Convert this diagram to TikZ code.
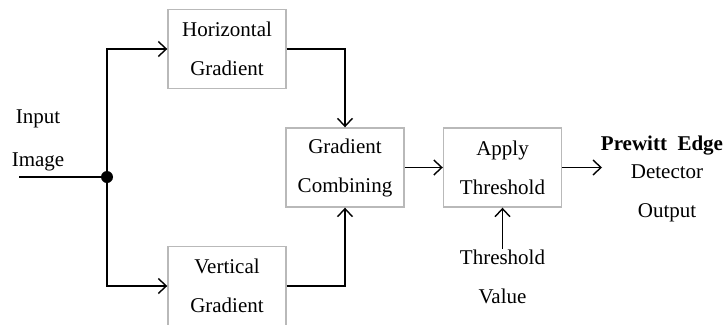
\documentclass[tikz,border=0pt]{standalone}
\usepackage{fontspec}
\setmainfont{Liberation Serif}
\usetikzlibrary{positioning,arrows.meta}

\begin{document}
\begin{tikzpicture}[
  x=1pt, y=-1pt,
  block/.style={
    rectangle, draw=gray!55, line width=1.4pt, minimum width=118pt,
    minimum height=79pt, align=center, font=\fontsize{21}{39}\selectfont
  },
  txt/.style={align=center, font=\fontsize{21}{39}\selectfont, inner sep=1pt},
  arrow/.style={-{Straight Barb[length=8pt,width=15pt]}, line width=1.4pt},
  wire/.style={line width=1.4pt}
]
\useasboundingbox (0,0) rectangle (725,324);

% === Blocks ===
\node[block] (hgrad) at (227, 49) {Horizontal\\Gradient};
\node[block] (vgrad) at (227, 286) {Vertical\\Gradient};
\node[block] (comb) at (345, 167.5) {Gradient\\Combining};
\node[block] (apply) at (502.5, 167.5) {Apply\\Threshold};

% === Labels ===
\node[txt] (input) at (38, 140) {Input\\[4pt]Image};
\node[txt, anchor=north] (tval) at (502.5, 249) {Threshold\\Value};
\node[txt, font=\fontsize{21}{39}\selectfont\bfseries] (prewitt) at (662, 146) {Prewitt~~Edge};
\node[txt] (outlbl) at (667, 193) {Detector\\Output};

% === Junction and free ends ===
\node[circle, fill, inner sep=0pt, minimum size=12pt] (junc) at (107, 177) {};
\coordinate (in) at (19, 177);
\coordinate (out) at (602, 167.5);

% === Connectors ===
\draw[wire] (in) -- (junc);
\draw[arrow] (junc) |- (hgrad.west);
\draw[arrow] (junc) |- (vgrad.west);
\draw[arrow] (hgrad.east) -| (comb.north);
\draw[arrow] (vgrad.east) -| (comb.south);
\draw[arrow] (comb) -- (apply);
\draw[arrow] (apply) -- (out);
\draw[arrow] (tval) -- (apply);

\end{tikzpicture}
\end{document}
